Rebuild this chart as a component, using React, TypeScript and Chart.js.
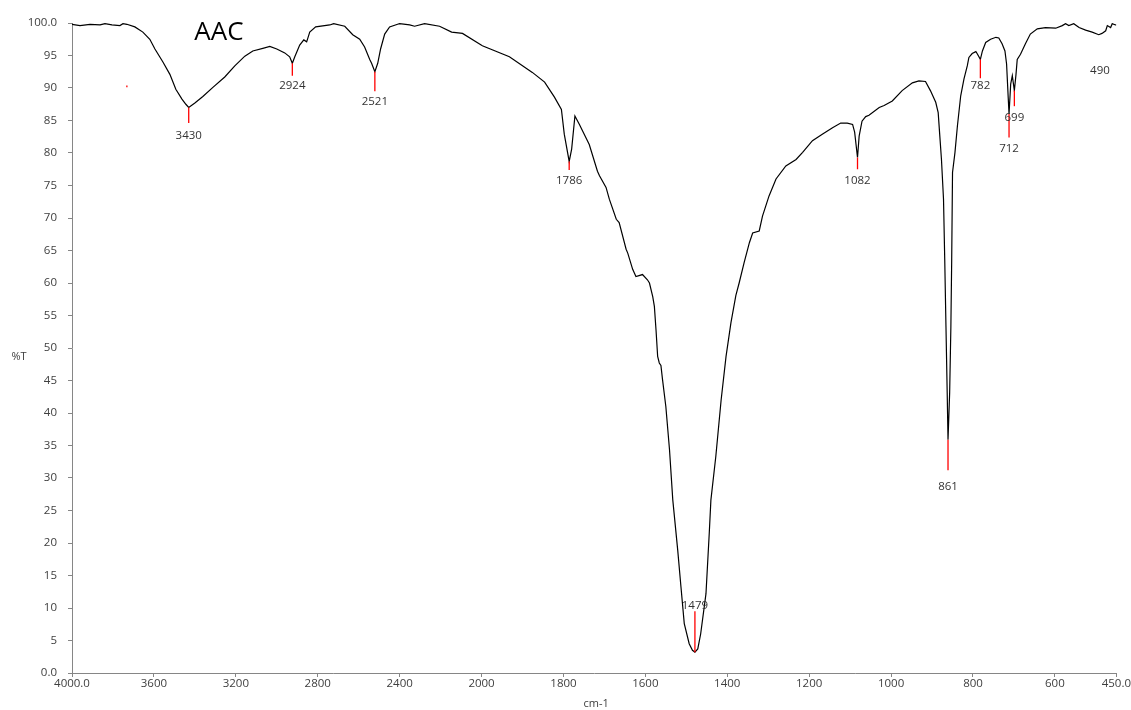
import React, { useEffect, useRef } from "react";
import { Chart, LinearScale, registerables } from "chart.js";

// ---- Data ----
const wavenumbers: number[] = [
  4000, 3961, 3912, 3863, 3839, 3805, 3766, 3751, 3732, 3693, 3654, 3620, 3595, 3556, 3522, 3493,
  3463, 3444, 3430, 3400, 3361, 3312, 3254, 3205, 3156, 3117, 3068, 3034, 3000, 2961, 2937, 2924,
  2912, 2888, 2868, 2854, 2839, 2810, 2741, 2722, 2668, 2629, 2595, 2571, 2546, 2537, 2521, 2507,
  2493, 2473, 2449, 2410, 2400, 2351, 2327, 2278, 2205, 2146, 2093, 1998, 1932, 1876, 1846, 1822,
  1805, 1798, 1786, 1780, 1772, 1761, 1737, 1717, 1712, 1696, 1688, 1671, 1664, 1647, 1643, 1631,
  1623, 1607, 1595, 1590, 1582, 1578, 1574, 1570, 1566, 1562, 1558, 1550, 1541, 1533, 1521, 1513,
  1505, 1493, 1485, 1479, 1472, 1465, 1452, 1444, 1440, 1428, 1415, 1403, 1391, 1379, 1371, 1359,
  1346, 1338, 1322, 1314, 1298, 1281, 1257, 1232, 1216, 1192, 1168, 1143, 1123, 1107, 1094, 1089,
  1082, 1078, 1071, 1062, 1054, 1029, 1017, 997, 973, 948, 932, 916, 904, 891, 885, 881,
  877, 872, 869, 866, 863, 861, 857, 854, 852, 850, 844, 838, 830, 822, 814, 810,
  802, 793, 790, 782, 777, 769, 757, 744, 737, 729, 722, 718, 714, 712, 708, 704,
  699, 695, 692, 684, 672, 660, 643, 623, 598, 582, 574, 566, 554, 541, 525, 509,
  493, 485, 476, 472, 464, 460, 452, 450,
];
const transmittance: number[] = [
  99.8, 99.6, 99.8, 99.7, 99.9, 99.7, 99.6, 99.9, 99.8, 99.4, 98.6, 97.5, 96.0, 94.0, 92.1, 89.8,
  88.3, 87.5, 87.0, 87.7, 88.7, 90.1, 91.7, 93.4, 94.9, 95.7, 96.1, 96.4, 96.0, 95.4, 94.8, 93.8,
  94.8, 96.6, 97.4, 97.1, 98.6, 99.4, 99.7, 99.9, 99.5, 98.2, 97.5, 96.3, 94.4, 93.8, 92.5, 93.8,
  96.0, 98.3, 99.4, 99.8, 99.9, 99.7, 99.5, 99.9, 99.5, 98.6, 98.4, 96.5, 94.8, 92.4, 90.9, 88.6,
  86.7, 82.9, 78.7, 80.6, 85.7, 84.4, 81.3, 77.2, 76.5, 74.7, 72.9, 69.8, 69.3, 65.2, 64.6, 62.1,
  61.0, 61.3, 60.5, 60.0, 57.9, 56.4, 52.8, 48.7, 47.7, 47.3, 45.1, 41.0, 34.3, 26.6, 18.9, 13.2,
  7.6, 4.5, 3.5, 3.2, 3.7, 6.0, 12.2, 21.5, 26.6, 33.3, 42.0, 48.7, 53.9, 58.1, 60.0, 63.1,
  66.2, 67.7, 68.0, 70.3, 73.4, 76.0, 78.0, 79.0, 80.1, 81.9, 82.9, 83.9, 84.6, 84.6, 84.4, 83.2,
  79.3, 82.6, 84.9, 85.6, 85.8, 87.0, 87.3, 88.0, 89.6, 90.8, 91.1, 91.0, 89.6, 87.8, 86.2, 82.6,
  79.0, 72.9, 63.6, 53.3, 43.1, 35.9, 43.1, 53.3, 63.6, 77.0, 80.1, 84.2, 88.8, 91.4, 93.4, 94.7,
  95.3, 95.6, 95.3, 94.4, 95.7, 97.0, 97.5, 97.8, 97.7, 96.8, 95.7, 93.7, 88.5, 86.0, 90.6, 91.9,
  89.6, 92.1, 94.4, 95.2, 96.8, 98.3, 99.1, 99.3, 99.2, 99.6, 99.9, 99.6, 99.9, 99.3, 98.9, 98.6,
  98.2, 98.4, 98.8, 99.6, 99.3, 99.9, 99.7, 99.7,
];

// Peak annotations (wavenumber, red marker from/to in %T, label centre in %T)
const peakWavenumbers: number[] = [3732, 3430, 2924, 2521, 1786, 1479, 1082, 861, 782, 712, 699, 490];
const peakLabels: string[] = ["", "3430", "2924", "2521", "1786", "1479", "1082", "861", "782", "712", "699", "490"];
const peakMarkFrom: (number | null)[] = [90.4, 87.0, 93.8, 92.5, 78.7, 3.2, 79.3, 35.9, 94.4, 86.0, 89.6, null];
const peakMarkTo: (number | null)[] = [90.1, 84.6, 91.9, 89.5, 77.4, 9.5, 77.5, 31.2, 91.5, 82.4, 87.2, null];
const peakLabelT: (number | null)[] = [null, 82.7, 90.3, 87.9, 75.8, 10.3, 75.8, 28.6, 90.3, 80.7, 85.4, 92.6];

// Axis ticks
const xTickValues: number[] = [4000, 3600, 3200, 2800, 2400, 2000, 1800, 1600, 1400, 1200, 1000, 800, 600, 450];
const xTickLabels: string[] = ["4000.0", "3600", "3200", "2800", "2400", "2000", "1800", "1600", "1400", "1200", "1000", "800", "600", "450.0"];
const yTickValues: number[] = [0, 5, 10, 15, 20, 25, 30, 35, 40, 45, 50, 55, 60, 65, 70, 75, 80, 85, 90, 95, 100];
const yTickLabels: string[] = ["0.0", "5", "10", "15", "20", "25", "30", "35", "40", "45", "50", "55", "60", "65", "70", "75", "80", "85", "90", "95", "100.0"];

const chartTitle = "AAC";
const xTitle = "cm-1";
const yTitle = "%T";

// ---- IR axis: 2x expansion below 2000 cm-1 ----
const X_MAX = 4000;
const X_BREAK = 2000;
const X_MIN = 450;
const toU = (w: number) => (w >= X_BREAK ? (X_MAX - w) / 2 : (X_MAX - X_BREAK) / 2 + (X_BREAK - w));
const U_TOTAL = toU(X_MIN);
const fromU = (u: number) => {
  const uBreak = (X_MAX - X_BREAK) / 2;
  return u <= uBreak ? X_MAX - u * 2 : X_BREAK - (u - uBreak);
};

class IRScale extends (LinearScale as any) {
  static id = "irscale";
  static defaults = {};
  buildTicks() {
    (this as any).start = (this as any).min;
    (this as any).end = (this as any).max;
    return xTickValues.map((v) => ({ value: v }));
  }
  getPixelForValue(value: number) {
    if (value === null || value === undefined || isNaN(value)) return NaN;
    return (this as any).getPixelForDecimal(toU(value) / U_TOTAL);
  }
  getValueForPixel(pixel: number) {
    return fromU((this as any).getDecimalForPixel(pixel) * U_TOTAL);
  }
}

Chart.register(...registerables, IRScale as any);

const FONT = '"Open Sans", "DejaVu Sans", sans-serif';
const TEXT_COLOR = "#404040";
const AXIS_COLOR = "#868686";

const annotationPlugin = {
  id: "irAnnotations",
  afterDatasetsDraw(chart: any) {
    const ctx = chart.ctx;
    const xs = chart.scales.x;
    const ys = chart.scales.y;
    ctx.save();
    ctx.font = `11.5px ${FONT}`;
    ctx.textAlign = "center";
    ctx.textBaseline = "middle";
    peakWavenumbers.forEach((w, i) => {
      const px = xs.getPixelForValue(w);
      const from = peakMarkFrom[i];
      const to = peakMarkTo[i];
      if (from !== null && to !== null) {
        ctx.strokeStyle = "rgb(255,0,0)";
        ctx.lineWidth = 1.3;
        ctx.beginPath();
        ctx.moveTo(px, ys.getPixelForValue(from));
        ctx.lineTo(px, ys.getPixelForValue(to));
        ctx.stroke();
      }
      const lt = peakLabelT[i];
      if (lt !== null && peakLabels[i]) {
        ctx.fillStyle = "#333333";
        ctx.fillText(peakLabels[i], px, ys.getPixelForValue(lt));
      }
    });
    ctx.restore();
  },
  afterDraw(chart: any) {
    const ctx = chart.ctx;
    const area = chart.chartArea;
    ctx.save();
    ctx.fillStyle = "#000000";
    ctx.font = `26px ${FONT}`;
    ctx.textAlign = "center";
    ctx.textBaseline = "middle";
    ctx.fillText(chartTitle, area.left + 147, area.top + 10);
    ctx.fillStyle = TEXT_COLOR;
    ctx.font = `11px ${FONT}`;
    ctx.fillText(yTitle, 19, (area.top + area.bottom) / 2 + 9);
    ctx.fillText(xTitle, (area.left + area.right) / 2 + 2, chart.height - 6);
    ctx.restore();
  },
};

export default function App() {
  const canvasRef = useRef<HTMLCanvasElement | null>(null);

  useEffect(() => {
    document.body.style.margin = "0";
    const canvas = canvasRef.current;
    if (!canvas) return;
    const points = wavenumbers.map((w, i) => ({ x: w, y: transmittance[i] }));
    const chart = new Chart(canvas, {
      type: "line",
      data: {
        datasets: [
          {
            label: "AAC",
            data: points,
            borderColor: "#000000",
            borderWidth: 1.2,
            pointRadius: 0,
            tension: 0,
            fill: false,
          },
        ],
      },
      options: {
        animation: false,
        responsive: false,
        devicePixelRatio: 1,
        layout: { padding: { top: 23, right: 14, left: 0, bottom: 0 } },
        plugins: {
          legend: { display: false },
          tooltip: { enabled: false },
          title: { display: false },
        },
        scales: {
          x: {
            type: "irscale" as any,
            min: X_MIN,
            max: X_MAX,
            grid: { display: true, drawOnChartArea: false, drawTicks: true, tickLength: 4, color: AXIS_COLOR },
            border: { display: true, color: AXIS_COLOR, width: 1 },
            ticks: {
              autoSkip: false,
              maxRotation: 0,
              padding: 0,
              color: TEXT_COLOR,
              font: { family: FONT, size: 11.5 },
              callback: (value: any) => {
                const idx = xTickValues.indexOf(Number(value));
                return idx >= 0 ? xTickLabels[idx] : "";
              },
            },
            afterFit: (s: any) => {
              s.height = 37;
            },
          } as any,
          y: {
            type: "linear",
            min: 0,
            max: 100,
            grid: { display: true, drawOnChartArea: false, drawTicks: true, tickLength: 4, color: AXIS_COLOR },
            border: { display: true, color: AXIS_COLOR, width: 1 },
            afterBuildTicks: (s: any) => {
              s.ticks = yTickValues.map((v) => ({ value: v }));
            },
            ticks: {
              padding: 11,
              color: TEXT_COLOR,
              font: { family: FONT, size: 11.5 },
              callback: (value: any) => {
                const idx = yTickValues.indexOf(Number(value));
                return idx >= 0 ? yTickLabels[idx] : "";
              },
            },
            afterFit: (s: any) => {
              s.width = 72;
            },
          },
        },
      },
      plugins: [annotationPlugin],
    });
    return () => chart.destroy();
  }, []);

  return (
    <div style={{ width: 1131, height: 710, background: "#ffffff" }}>
      <canvas ref={canvasRef} width={1131} height={710} style={{ display: "block" }} />
    </div>
  );
}
